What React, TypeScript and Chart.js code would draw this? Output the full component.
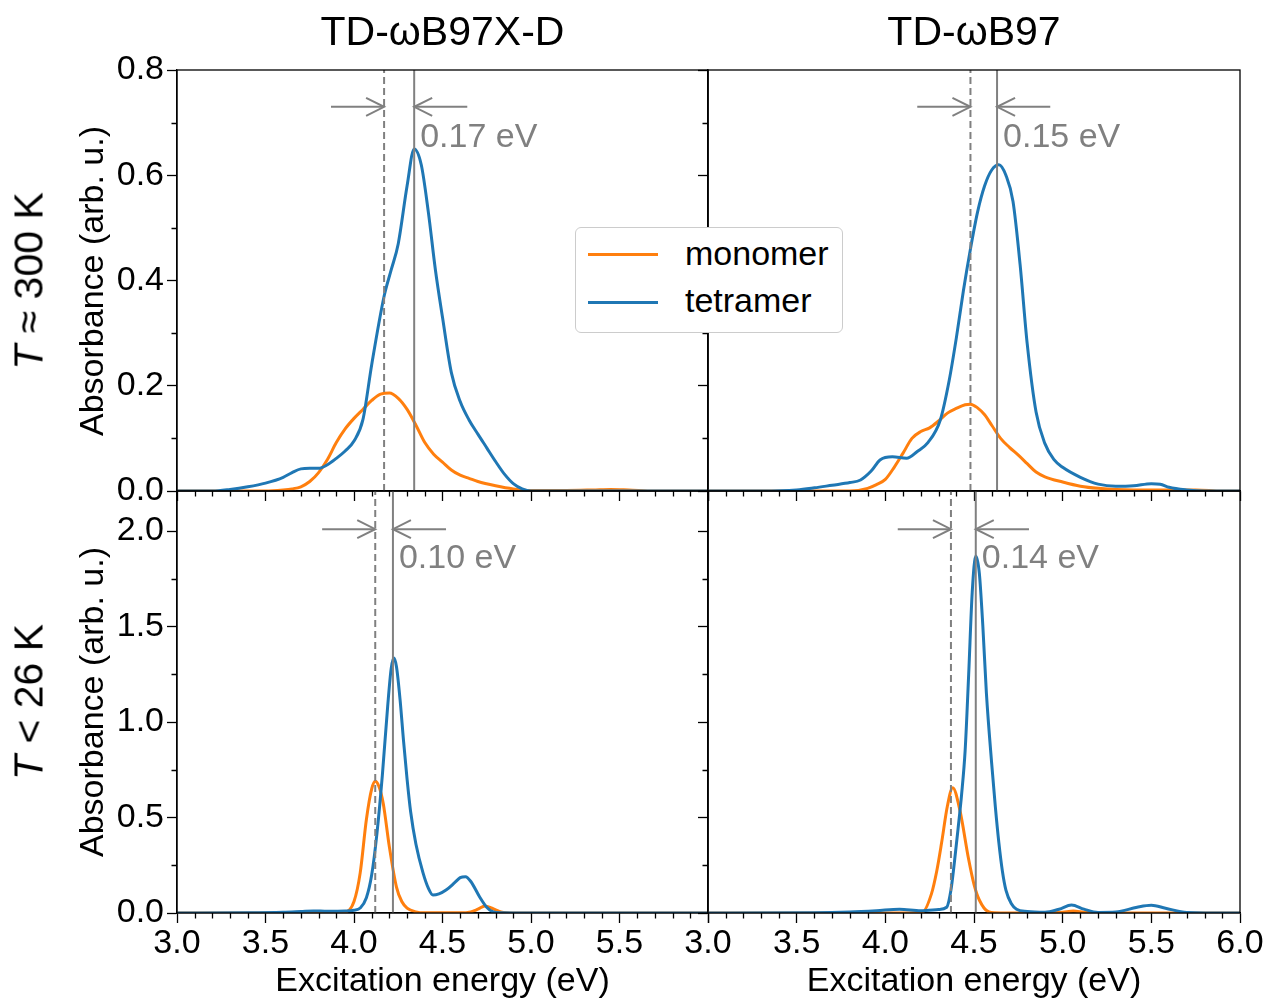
import React, { useEffect, useRef } from 'react';
import { Chart, registerables } from 'chart.js';

Chart.register(...registerables);

// ---------------- data ----------------
const xMajorTicks = [3.0, 3.5, 4.0, 4.5, 5.0, 5.5, 6.0];
const yTicksTop = [0.0, 0.2, 0.4, 0.6, 0.8];
const yTicksBottom = [0.0, 0.5, 1.0, 1.5, 2.0];
const columnTitles = ['TD-ωB97X-D', 'TD-ωB97'];
const seriesNames = ['monomer', 'tetramer'];
const xAxisTitle = 'Excitation energy (eV)';
const yAxisTitle = 'Absorbance (arb. u.)';

// top-left: TD-ωB97X-D, T ≈ 300 K
const tlMonomerX = [3.0, 3.5, 3.6, 3.65, 3.7, 3.75, 3.8, 3.85, 3.9, 3.95, 4.0, 4.05, 4.1, 4.15, 4.2, 4.25, 4.3, 4.35, 4.4, 4.45, 4.5, 4.55, 4.6, 4.65, 4.7, 4.8, 4.9, 5.0, 5.2, 5.35, 5.45, 5.55, 5.7, 6.0];
const tlMonomerY = [0, 0, 0.002, 0.004, 0.008, 0.018, 0.035, 0.06, 0.092, 0.118, 0.138, 0.155, 0.172, 0.184, 0.186, 0.176, 0.155, 0.125, 0.092, 0.07, 0.055, 0.04, 0.03, 0.024, 0.018, 0.01, 0.004, 0.001, 0.001, 0.002, 0.003, 0.002, 0, 0];
const tlTetramerX = [3.0, 3.2, 3.3, 3.4, 3.5, 3.6, 3.65, 3.7, 3.75, 3.8, 3.85, 3.9, 3.95, 4.0, 4.05, 4.1, 4.17, 4.21, 4.25, 4.3, 4.34, 4.38, 4.42, 4.46, 4.5, 4.55, 4.6, 4.65, 4.7, 4.75, 4.8, 4.85, 4.9, 4.95, 5.0, 6.0];
const tlTetramerY = [0, 0, 0.003, 0.008, 0.015, 0.026, 0.035, 0.042, 0.043, 0.043, 0.05, 0.062, 0.076, 0.095, 0.135, 0.24, 0.37, 0.42, 0.47, 0.58, 0.65, 0.62, 0.53, 0.42, 0.33, 0.225, 0.17, 0.135, 0.108, 0.082, 0.056, 0.032, 0.014, 0.004, 0, 0];
const tlShift = [4.17, 4.34];
const tlShiftLabel = '0.17 eV';

// top-right: TD-ωB97, T ≈ 300 K
const trMonomerX = [3.0, 3.8, 3.9, 3.95, 4.0, 4.05, 4.1, 4.15, 4.2, 4.25, 4.3, 4.35, 4.4, 4.45, 4.48, 4.52, 4.56, 4.6, 4.65, 4.7, 4.75, 4.8, 4.85, 4.9, 5.0, 5.1, 5.2, 5.4, 5.6, 5.75, 5.9, 6.0];
const trMonomerY = [0, 0, 0.005, 0.012, 0.022, 0.045, 0.072, 0.1, 0.113, 0.12, 0.133, 0.148, 0.157, 0.164, 0.165, 0.158, 0.145, 0.125, 0.1, 0.083, 0.068, 0.052, 0.036, 0.027, 0.017, 0.009, 0.005, 0.002, 0.002, 0.002, 0, 0];
const trTetramerX = [3.0, 3.3, 3.5, 3.6, 3.7, 3.8, 3.86, 3.92, 3.97, 4.04, 4.12, 4.18, 4.24, 4.31, 4.36, 4.4, 4.44, 4.48, 4.52, 4.56, 4.6, 4.64, 4.68, 4.72, 4.76, 4.8, 4.85, 4.9, 4.95, 5.0, 5.1, 5.2, 5.3, 5.4, 5.5, 5.55, 5.6, 5.7, 5.8, 6.0];
const trTetramerY = [0, 0, 0.002, 0.006, 0.011, 0.016, 0.021, 0.038, 0.059, 0.065, 0.062, 0.075, 0.092, 0.135, 0.21, 0.29, 0.38, 0.46, 0.53, 0.58, 0.61, 0.62, 0.6, 0.55, 0.43, 0.28, 0.15, 0.09, 0.06, 0.045, 0.026, 0.013, 0.009, 0.01, 0.014, 0.013, 0.007, 0.002, 0, 0];
const trShift = [4.48, 4.63];
const trShiftLabel = '0.15 eV';

// bottom-left: TD-ωB97X-D, T < 26 K
const blMonomerX = [3.0, 3.9, 3.95, 4.0, 4.035, 4.07, 4.1, 4.12, 4.14, 4.165, 4.2, 4.24, 4.27, 4.3, 4.35, 4.4, 4.6, 4.66, 4.7, 4.74, 4.78, 4.83, 4.9, 6.0];
const blMonomerY = [0, 0, 0.004, 0.06, 0.21, 0.49, 0.65, 0.69, 0.665, 0.575, 0.345, 0.136, 0.06, 0.026, 0.006, 0.001, 0.001, 0.006, 0.02, 0.037, 0.025, 0.006, 0, 0];
const blTetramerX = [3.0, 3.4, 3.6, 3.7, 3.77, 3.85, 3.95, 4.0, 4.035, 4.07, 4.1, 4.13, 4.16, 4.19, 4.21, 4.225, 4.24, 4.26, 4.28, 4.3, 4.32, 4.35, 4.39, 4.42, 4.446, 4.48, 4.52, 4.57, 4.6, 4.63, 4.66, 4.71, 4.75, 4.787, 4.83, 5.0, 6.0];
const blTetramerY = [0, 0.001, 0.004, 0.008, 0.011, 0.009, 0.01, 0.014, 0.026, 0.08, 0.2, 0.42, 0.72, 1.08, 1.28, 1.335, 1.29, 1.12, 0.9, 0.7, 0.53, 0.36, 0.21, 0.13, 0.094, 0.1, 0.12, 0.16, 0.185, 0.19, 0.165, 0.084, 0.03, 0.005, 0.001, 0, 0];
const blShift = [4.12, 4.22];
const blShiftLabel = '0.10 eV';

// bottom-right: TD-ωB97, T < 26 K
const brMonomerX = [3.0, 4.1, 4.21, 4.26, 4.29, 4.317, 4.35, 4.38, 4.42, 4.47, 4.5, 4.53, 4.585, 4.65, 4.9, 5.0, 5.06, 5.12, 5.2, 6.0];
const brMonomerY = [0, 0, 0.005, 0.1, 0.22, 0.366, 0.56, 0.656, 0.54, 0.28, 0.15, 0.068, 0.005, 0, 0, 0.004, 0.01, 0.004, 0, 0];
const brTetramerX = [3.0, 3.6, 3.8, 3.95, 4.08, 4.2, 4.3, 4.346, 4.37, 4.39, 4.41, 4.43, 4.45, 4.47, 4.49, 4.51, 4.53, 4.55, 4.57, 4.6, 4.62, 4.64, 4.66, 4.68, 4.71, 4.74, 4.8, 4.9, 4.98, 5.05, 5.12, 5.2, 5.3, 5.42, 5.5, 5.58, 5.7, 6.0];
const brTetramerY = [0, 0.001, 0.005, 0.012, 0.02, 0.012, 0.018, 0.03, 0.12, 0.27, 0.44, 0.62, 0.85, 1.25, 1.68, 1.87, 1.78, 1.5, 1.15, 0.78, 0.56, 0.37, 0.22, 0.12, 0.05, 0.02, 0.008, 0.004, 0.02, 0.042, 0.02, 0.003, 0.005, 0.03, 0.04, 0.025, 0.003, 0];
const brShift = [4.37, 4.51];
const brShiftLabel = '0.14 eV';

// ---------------- styling / layout ----------------
const FONT = '"Liberation Sans", Arial, Helvetica, sans-serif';
const GRAY = '#808080';
const ORANGE = '#ff7f0e';
const BLUE = '#1f77b4';
const W = 1268;
const H = 1000;
const COLS = [{ left: 177, right: 708 }, { left: 708, right: 1240 }];
const ROWS = [{ top: 70, bottom: 491 }, { top: 491, bottom: 913 }];
const ROW_YMAX = [0.8, 2.21];
const ROW_YTICKS = [yTicksTop, yTicksBottom];
const ROW_YMINOR = [0.1, 0.25];
const ROW_ARROW_Y = [0.73, 2.01];
const ROW_TEXT_Y = [0.672, 1.855];
const TICK_FONT = 34;
const LABEL_FONT = 34;
const BIG_FONT = 41;

type PanelCfg = {
  col: number;
  row: number;
  monoX: number[];
  monoY: number[];
  tetraX: number[];
  tetraY: number[];
  shift: number[];
  shiftLabel: string;
};

const panels: PanelCfg[] = [
  { col: 0, row: 0, monoX: tlMonomerX, monoY: tlMonomerY, tetraX: tlTetramerX, tetraY: tlTetramerY, shift: tlShift, shiftLabel: tlShiftLabel },
  { col: 1, row: 0, monoX: trMonomerX, monoY: trMonomerY, tetraX: trTetramerX, tetraY: trTetramerY, shift: trShift, shiftLabel: trShiftLabel },
  { col: 0, row: 1, monoX: blMonomerX, monoY: blMonomerY, tetraX: blTetramerX, tetraY: blTetramerY, shift: blShift, shiftLabel: blShiftLabel },
  { col: 1, row: 1, monoX: brMonomerX, monoY: brMonomerY, tetraX: brTetramerX, tetraY: brTetramerY, shift: brShift, shiftLabel: brShiftLabel },
];

const toPoints = (xs: number[], ys: number[]) => xs.map((x, i) => ({ x, y: ys[i] }));

function drawArrow(ctx: CanvasRenderingContext2D, x0: number, y0: number, x1: number, y1: number) {
  const dir = Math.sign(x1 - x0);
  ctx.beginPath();
  ctx.moveTo(x0, y0);
  ctx.lineTo(x1, y1);
  ctx.stroke();
  ctx.beginPath();
  ctx.moveTo(x1 - dir * 18, y1 - 9);
  ctx.lineTo(x1, y1);
  ctx.lineTo(x1 - dir * 18, y1 + 9);
  ctx.stroke();
}

const shiftPlugin = {
  id: 'shiftAnnot',
  afterDatasetsDraw(chart: any, _args: any, opts: any) {
    const { ctx } = chart;
    const xs = chart.scales.x;
    const ys = chart.scales.y;
    const [xd, xsol] = opts.shift;
    const ay = ys.getPixelForValue(opts.arrowY);
    ctx.save();
    ctx.strokeStyle = GRAY;
    ctx.lineWidth = 2;
    ctx.setLineDash([]);
    drawArrow(ctx, xs.getPixelForValue(xd - opts.len), ay, xs.getPixelForValue(xd), ay);
    drawArrow(ctx, xs.getPixelForValue(xsol + opts.len), ay, xs.getPixelForValue(xsol), ay);
    ctx.fillStyle = GRAY;
    ctx.font = `${TICK_FONT}px ${FONT}`;
    ctx.textAlign = 'left';
    ctx.textBaseline = 'middle';
    ctx.fillText(opts.label, xs.getPixelForValue(xsol) + 6, ys.getPixelForValue(opts.textY));
    ctx.restore();
  },
};

const framePlugin = {
  id: 'frameMinor',
  afterDraw(chart: any, _args: any, opts: any) {
    const { ctx, chartArea: ca } = chart;
    const xs = chart.scales.x;
    const ys = chart.scales.y;
    ctx.save();
    ctx.strokeStyle = '#000';
    ctx.lineWidth = 1.3;
    ctx.setLineDash([]);
    ctx.strokeRect(ca.left, ca.top, ca.right - ca.left, ca.bottom - ca.top);
    ctx.beginPath();
    const nx = Math.round((xs.max - xs.min) / opts.xStep);
    for (let i = 0; i <= nx; i++) {
      const v = xs.min + i * opts.xStep;
      if (xMajorTicks.some((m) => Math.abs(m - v) < 1e-6)) continue;
      const p = Math.round(xs.getPixelForValue(v)) + 0.5;
      ctx.moveTo(p, ca.bottom);
      ctx.lineTo(p, ca.bottom + 5.5);
    }
    const ny = Math.floor((ys.max - ys.min) / opts.yStep + 1e-6);
    for (let i = 0; i <= ny; i++) {
      const v = ys.min + i * opts.yStep;
      if (opts.yMajor.some((m: number) => Math.abs(m - v) < 1e-6)) continue;
      const p = Math.round(ys.getPixelForValue(v)) + 0.5;
      ctx.moveTo(ca.left, p);
      ctx.lineTo(ca.left - 5.5, p);
    }
    ctx.stroke();
    ctx.restore();
  },
};

function Panel({ cfg }: { cfg: PanelCfg }) {
  const ref = useRef<HTMLCanvasElement>(null);
  useEffect(() => {
    const col = COLS[cfg.col];
    const row = ROWS[cfg.row];
    const yMax = ROW_YMAX[cfg.row];
    const yTicks = ROW_YTICKS[cfg.row];
    const yAxisW = cfg.col === 0 ? 60 : 10;
    const xAxisH = 60;
    const showXLabels = cfg.row === 1;
    const showYLabels = cfg.col === 0;
    const tickFont = { family: FONT, size: TICK_FONT };
    const chart = new Chart(ref.current as HTMLCanvasElement, {
      type: 'line',
      data: {
        datasets: [
          {
            label: 'monomer peak',
            data: [{ x: cfg.shift[0], y: 0 }, { x: cfg.shift[0], y: yMax }],
            borderColor: GRAY,
            borderWidth: 2,
            borderDash: [7, 4],
            pointRadius: 0,
            order: 0,
          },
          {
            label: 'tetramer peak',
            data: [{ x: cfg.shift[1], y: 0 }, { x: cfg.shift[1], y: yMax }],
            borderColor: GRAY,
            borderWidth: 2,
            pointRadius: 0,
            order: 1,
          },
          {
            label: seriesNames[1],
            data: toPoints(cfg.tetraX, cfg.tetraY),
            borderColor: BLUE,
            borderWidth: 3,
            pointRadius: 0,
            cubicInterpolationMode: 'monotone',
            order: 2,
          },
          {
            label: seriesNames[0],
            data: toPoints(cfg.monoX, cfg.monoY),
            borderColor: ORANGE,
            borderWidth: 3,
            pointRadius: 0,
            cubicInterpolationMode: 'monotone',
            order: 3,
          },
        ],
      } as any,
      options: {
        animation: false,
        responsive: false,
        devicePixelRatio: 1,
        events: [],
        layout: {
          padding: {
            left: col.left - yAxisW,
            right: W - col.right,
            top: row.top,
            bottom: H - row.bottom - xAxisH,
          },
        },
        plugins: {
          legend: { display: false },
          tooltip: { enabled: false },
          title: { display: false },
          shiftAnnot: {
            shift: cfg.shift,
            label: cfg.shiftLabel,
            arrowY: ROW_ARROW_Y[cfg.row],
            textY: ROW_TEXT_Y[cfg.row],
            len: 0.3,
          },
          frameMinor: { xStep: 0.1, yStep: ROW_YMINOR[cfg.row], yMajor: yTicks },
        } as any,
        scales: {
          x: {
            type: 'linear',
            min: 3,
            max: 6,
            afterFit: (s: any) => {
              s.height = xAxisH;
            },
            afterBuildTicks: (s: any) => {
              s.ticks = xMajorTicks.map((v) => ({ value: v }));
            },
            ticks: {
              autoSkip: false,
              maxRotation: 0,
              font: tickFont,
              color: '#000',
              padding: 0,
              callback: (v: any) => {
                if (!showXLabels) return '';
                if (cfg.col === 0 && Math.abs(Number(v) - 6) < 1e-6) return '';
                return Number(v).toFixed(1);
              },
            },
            grid: { drawOnChartArea: false, drawTicks: true, tickLength: 10, color: '#000', tickColor: '#000', tickWidth: 1.3 },
            border: { display: true, color: '#000', width: 1.3 },
          },
          y: {
            type: 'linear',
            min: 0,
            max: yMax,
            afterFit: (s: any) => {
              s.width = yAxisW;
            },
            afterBuildTicks: (s: any) => {
              s.ticks = yTicks.map((v) => ({ value: v }));
            },
            ticks: {
              autoSkip: false,
              font: tickFont,
              color: '#000',
              padding: 3,
              callback: (v: any) => (showYLabels ? Number(v).toFixed(1) : ''),
            },
            grid: { drawOnChartArea: false, drawTicks: true, tickLength: 10, color: '#000', tickColor: '#000', tickWidth: 1.3 },
            border: { display: true, color: '#000', width: 1.3 },
          },
        } as any,
      },
      plugins: [shiftPlugin, framePlugin] as any,
    });
    return () => chart.destroy();
  }, [cfg]);
  return (
    <canvas
      ref={ref}
      width={W}
      height={H}
      style={{ position: 'absolute', left: 0, top: 0, width: W, height: H }}
    />
  );
}

const centered = (cx: number, cy: number, size: number, rotate = false): React.CSSProperties => ({
  position: 'absolute',
  left: cx,
  top: cy,
  transform: `translate(-50%, -50%)${rotate ? ' rotate(-90deg)' : ''}`,
  fontFamily: FONT,
  fontSize: size,
  lineHeight: `${size}px`,
  whiteSpace: 'nowrap',
  color: '#000',
});

export default function App() {
  const colCenters = COLS.map((c) => (c.left + c.right) / 2);
  const rowCenters = ROWS.map((r) => (r.top + r.bottom) / 2);
  return (
    <div style={{ position: 'absolute', left: 0, top: 0, width: W, height: H, background: '#fff', overflow: 'hidden' }}>
      {panels.map((p, i) => (
        <Panel key={i} cfg={p} />
      ))}
      {columnTitles.map((t, i) => (
        <div key={'t' + i} style={centered(colCenters[i], 31, BIG_FONT)}>{t}</div>
      ))}
      {colCenters.map((cx, i) => (
        <div key={'xl' + i} style={centered(cx, 979, LABEL_FONT)}>{xAxisTitle}</div>
      ))}
      {rowCenters.map((cy, i) => (
        <div key={'yl' + i} style={centered(91, cy, LABEL_FONT, true)}>{yAxisTitle}</div>
      ))}
      <div style={centered(29, rowCenters[0], BIG_FONT, true)}>
        <span style={{ fontStyle: 'italic' }}>T</span> ≈ 300 K
      </div>
      <div style={centered(29, rowCenters[1], BIG_FONT, true)}>
        <span style={{ fontStyle: 'italic' }}>T</span> &lt; 26 K
      </div>
      {/* legend */}
      <div
        style={{
          position: 'absolute',
          left: 575,
          top: 227,
          width: 268,
          height: 106,
          boxSizing: 'border-box',
          border: '1.5px solid #cccccc',
          borderRadius: 6,
          background: '#fff',
        }}
      />
      {[ORANGE, BLUE].map((c, i) => (
        <div
          key={'sw' + i}
          style={{ position: 'absolute', left: 588, top: 252.5 + i * 48, width: 70, height: 3, background: c }}
        />
      ))}
      {seriesNames.map((n, i) => (
        <div
          key={'ln' + i}
          style={{
            position: 'absolute',
            left: 685,
            top: 236 + i * 47,
            fontFamily: FONT,
            fontSize: LABEL_FONT,
            lineHeight: `${LABEL_FONT}px`,
            whiteSpace: 'nowrap',
            color: '#000',
          }}
        >
          {n}
        </div>
      ))}
    </div>
  );
}
